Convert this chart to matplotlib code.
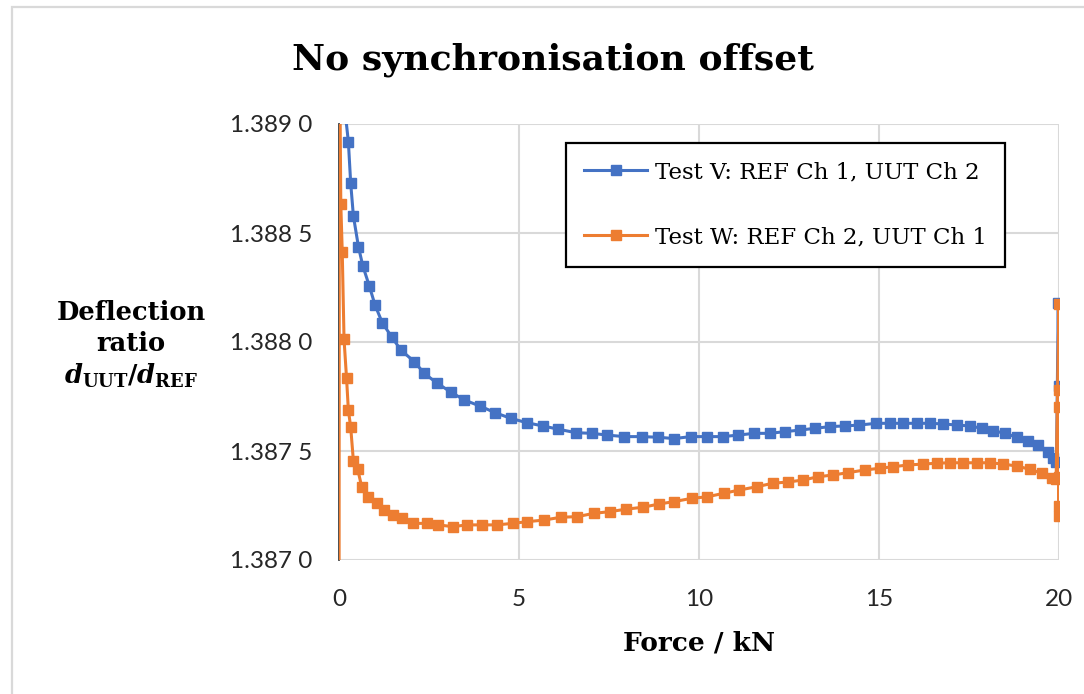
import matplotlib.pyplot as plt
import matplotlib.patches as mpatches
from matplotlib.ticker import FuncFormatter, MultipleLocator

plt.rcParams['mathtext.fontset'] = 'custom'
plt.rcParams['mathtext.rm'] = 'DejaVu Serif:bold'
plt.rcParams['mathtext.it'] = 'DejaVu Serif:italic:bold'
plt.rcParams['mathtext.bf'] = 'DejaVu Serif:bold'

# Test V: REF Ch 1, UUT Ch 2
force_v = [0.09, 0.14, 0.26, 0.325, 0.40, 0.54, 0.66, 0.84, 1.00, 1.20, 1.46, 1.72,
           2.09, 2.37, 2.71, 3.10, 3.48, 3.92, 4.33, 4.77, 5.21, 5.66, 6.09, 6.58,
           7.02, 7.45, 7.93, 8.41, 8.87, 9.31, 9.77, 10.21, 10.66, 11.09, 11.53,
           11.97, 12.39, 12.81, 13.22, 13.64, 14.06, 14.45, 14.92, 15.31, 15.68,
           16.05, 16.42, 16.79, 17.16, 17.53, 17.85, 18.18, 18.50, 18.83, 19.15,
           19.43, 19.70, 19.83, 19.93, 19.98, 20.0]
ratio_v = [1.38940, 1.38910, 1.388919, 1.388728, 1.388578, 1.388437, 1.388350,
           1.388258, 1.388170, 1.388089, 1.388024, 1.387963, 1.387910, 1.387856,
           1.387813, 1.387771, 1.387734, 1.387706, 1.387676, 1.387650, 1.387630,
           1.387615, 1.387600, 1.387584, 1.387581, 1.387573, 1.387566, 1.387566,
           1.387563, 1.387557, 1.387566, 1.387566, 1.387566, 1.387573, 1.387581,
           1.387581, 1.387589, 1.387596, 1.387604, 1.387612, 1.387615, 1.387619,
           1.387627, 1.387627, 1.387627, 1.387627, 1.387627, 1.387624, 1.387619,
           1.387615, 1.387604, 1.387593, 1.387581, 1.387563, 1.387547, 1.387528,
           1.387497, 1.387467, 1.387450, 1.388180, 1.387800]

# Test W: REF Ch 2, UUT Ch 1
force_w = [0.0, 0.01, 0.05, 0.09, 0.14, 0.21, 0.26, 0.325, 0.40, 0.52, 0.63, 0.81,
           1.05, 1.25, 1.51, 1.74, 2.06, 2.44, 2.76, 3.16, 3.55, 3.96, 4.38, 4.83,
           5.23, 5.69, 6.16, 6.62, 7.08, 7.53, 7.97, 8.44, 8.90, 9.31, 9.80, 10.23,
           10.69, 11.12, 11.60, 12.05, 12.48, 12.90, 13.31, 13.73, 14.15, 14.61,
           15.03, 15.40, 15.81, 16.23, 16.60, 16.97, 17.34, 17.71, 18.08, 18.45,
           18.83, 19.19, 19.52, 19.80, 19.92, 20.0, 20.0, 20.0, 20.0, 20.0, 20.0]
ratio_w = [1.38600, 1.38950, 1.388633, 1.388414, 1.388012, 1.387833, 1.387688,
           1.387609, 1.387454, 1.387416, 1.387336, 1.387291, 1.387260, 1.387229,
           1.387206, 1.387191, 1.387168, 1.387168, 1.387161, 1.387153, 1.387161,
           1.387161, 1.387161, 1.387168, 1.387176, 1.387183, 1.387196, 1.387199,
           1.387214, 1.387222, 1.387233, 1.387242, 1.387257, 1.387268, 1.387283,
           1.387290, 1.387306, 1.387321, 1.387336, 1.387352, 1.387358, 1.387367,
           1.387382, 1.387390, 1.387401, 1.387413, 1.387421, 1.387428, 1.387436,
           1.387440, 1.387444, 1.387446, 1.387446, 1.387446, 1.387446, 1.387440,
           1.387431, 1.387416, 1.387398, 1.387375, 1.387370, 1.388175, 1.387200,
           1.387780, 1.387250, 1.387700, 1.387380]

labels = ['Test V: REF Ch 1, UUT Ch 2', 'Test W: REF Ch 2, UUT Ch 1']
blue = '#4472C4'
orange = '#ED7D31'
grid = '#D9D9D9'

W, H = 1084, 694
fig = plt.figure(figsize=(W / 100, H / 100), dpi=100)
ax = fig.add_axes([339 / W, 1 - 560 / H, 720 / W, 436 / H])

# outer chart frame, only left and top edges fall inside the image
fig.patches.append(mpatches.Rectangle((11.5 / W, -0.1), 1.2, 0.1 + (H - 6.5) / H,
                                      transform=fig.transFigure, fill=False,
                                      edgecolor=grid, linewidth=1.6))

ax.plot(force_v, ratio_v, '-s', color=blue, lw=2.2, ms=6.5, label=labels[0], zorder=3)
ax.plot(force_w, ratio_w, '-s', color=orange, lw=2.2, ms=6.5, label=labels[1], zorder=4)

ax.set_xlim(0, 20)
ax.set_ylim(1.387, 1.389)
ax.xaxis.set_major_locator(MultipleLocator(5))
ax.yaxis.set_major_locator(MultipleLocator(0.0005))

def fmt(v, pos):
    s = f'{v:.4f}'
    return s[:-1] + ' ' + s[-1]

ax.yaxis.set_major_formatter(FuncFormatter(fmt))
ax.grid(True, color=grid, lw=1.5, zorder=0)
ax.set_axisbelow(True)
for sp in ['top', 'right', 'bottom']:
    ax.spines[sp].set_visible(False)
ax.spines['left'].set_color('#404040')
ax.spines['left'].set_linewidth(1.3)
ax.spines['left'].set_zorder(2)
ax.tick_params(length=0, labelsize=17.5)
ax.tick_params(axis='y', pad=19)
ax.tick_params(axis='x', pad=21)
for t in ax.get_xticklabels() + ax.get_yticklabels():
    t.set_family(['Lato', 'DejaVu Sans'])
    t.set_color('#262626')

fig.text(699 / W, 1 - 643 / H, 'Force / kN', ha='center', va='center',
         family='DejaVu Serif', fontweight='bold', fontsize=19)
fig.text(131 / W, 1 - 345 / H, 'Deflection\nratio\n$d_{\\rm UUT}/d_{\\rm REF}$',
         ha='center', va='center', family='DejaVu Serif', fontweight='bold',
         fontsize=18.5, linespacing=1.3)
fig.text(553 / W, 1 - 60 / H, 'No synchronisation offset', ha='center', va='center',
         family='DejaVu Serif', fontweight='bold', fontsize=26)

leg = ax.legend(loc='upper left', bbox_to_anchor=(0.315, 0.956), fancybox=False,
                edgecolor='black', framealpha=1, borderpad=0.8, labelspacing=1.87,
                handlelength=2.75, handletextpad=0.35, borderaxespad=0,
                prop={'family': 'DejaVu Serif', 'size': 16.5})
leg.get_frame().set_linewidth(1.6)

fig.savefig('out.png', dpi=100)
